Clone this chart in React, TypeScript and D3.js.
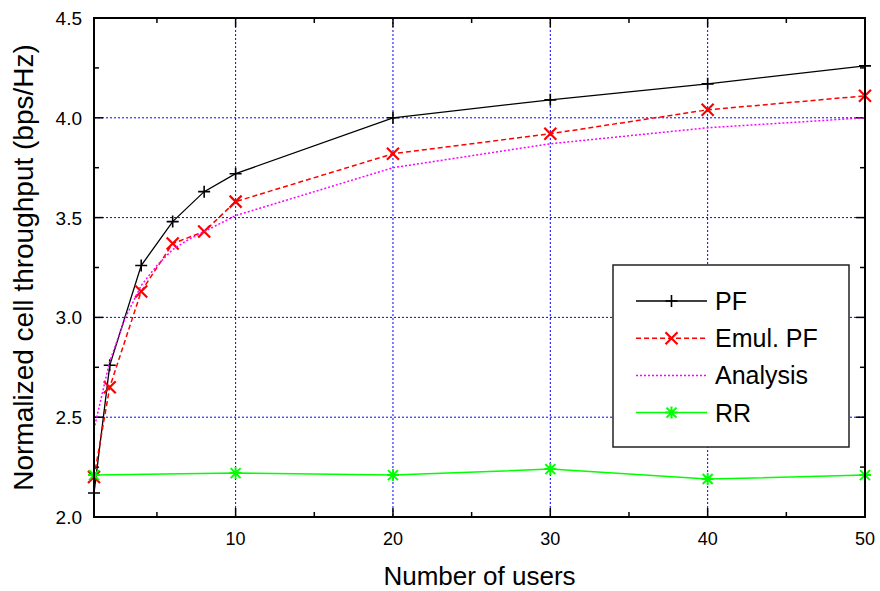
import React, { useEffect, useRef } from 'react';
import * as d3 from 'd3';

// number of users on the x axis
const pfUsers = [1, 2, 4, 6, 8, 10, 20, 30, 40, 50];
const pfValues = [2.12, 2.76, 3.26, 3.48, 3.63, 3.72, 4.0, 4.09, 4.17, 4.26];

const emulUsers = [1, 2, 4, 6, 8, 10, 20, 30, 40, 50];
const emulValues = [2.2, 2.65, 3.13, 3.37, 3.43, 3.58, 3.82, 3.92, 4.04, 4.11];

const analysisUsers = [1, 2, 3, 4, 5, 6, 7, 8, 9, 10, 20, 30, 40, 50];
const analysisValues = [2.44, 2.78, 3.0, 3.16, 3.26, 3.34, 3.39, 3.43, 3.47, 3.51, 3.75, 3.87, 3.95, 4.0];

const rrUsers = [1, 10, 20, 30, 40, 50];
const rrValues = [2.21, 2.22, 2.21, 2.24, 2.19, 2.21];

const xTicks = [10, 20, 30, 40, 50];
const xMinorTicks = [5, 15, 25, 35, 45];
const yTicks = [2.0, 2.5, 3.0, 3.5, 4.0, 4.5];
const yMinorTicks = [2.25, 2.75, 3.25, 3.75, 4.25];

const legendLabels = ['PF', 'Emul. PF', 'Analysis', 'RR'];

const App = () => {
  const svgRef = useRef(null);

  useEffect(() => {
    document.body.style.margin = '0';
    const width = 880;
    const height = 591;
    const left = 94, right = 865, top = 18, bottom = 517;
    const font = 'Liberation Sans, Arial, Helvetica, sans-serif';

    const svg = d3.select(svgRef.current)
      .attr('width', width)
      .attr('height', height)
      .style('display', 'block')
      .style('background', '#fff');
    svg.selectAll('*').remove();

    const x = d3.scaleLinear().domain([1, 50]).range([left, right]);
    const y = d3.scaleLinear().domain([2, 4.5]).range([bottom, top]);

    // grid
    const grid = svg.append('g')
      .attr('stroke', '#0000ff')
      .attr('stroke-width', 1)
      .attr('stroke-dasharray', '2,2');
    xTicks.filter(t => t < 50).forEach(t => {
      grid.append('line').attr('x1', x(t)).attr('x2', x(t)).attr('y1', top).attr('y2', bottom);
    });
    yTicks.filter(t => t > 2 && t < 4.5).forEach(t => {
      grid.append('line').attr('x1', left).attr('x2', right).attr('y1', y(t)).attr('y2', y(t));
    });

    // ticks on all four sides
    const ticks = svg.append('g').attr('stroke', '#000').attr('stroke-width', 1.5);
    const tickLines = (vals, len) => {
      vals.forEach(t => {
        ticks.append('line').attr('x1', x(t)).attr('x2', x(t)).attr('y1', bottom).attr('y2', bottom - len);
        ticks.append('line').attr('x1', x(t)).attr('x2', x(t)).attr('y1', top).attr('y2', top + len);
      });
    };
    tickLines(xTicks, 9);
    tickLines(xMinorTicks, 5);
    const yTickLines = (vals, len) => {
      vals.forEach(t => {
        ticks.append('line').attr('x1', left).attr('x2', left + len).attr('y1', y(t)).attr('y2', y(t));
        ticks.append('line').attr('x1', right).attr('x2', right - len).attr('y1', y(t)).attr('y2', y(t));
      });
    };
    yTickLines(yTicks, 9);
    yTickLines(yMinorTicks, 5);

    // tick labels
    svg.append('g').selectAll('text')
      .data(xTicks)
      .enter()
      .append('text')
      .attr('x', d => x(d))
      .attr('y', 545)
      .attr('text-anchor', 'middle')
      .style('font-family', font)
      .style('font-size', '18px')
      .text(d => d);

    svg.append('g').selectAll('text')
      .data(yTicks)
      .enter()
      .append('text')
      .attr('x', 82)
      .attr('y', d => y(d) + 7)
      .attr('text-anchor', 'end')
      .style('font-family', font)
      .style('font-size', '19px')
      .text(d => d.toFixed(1));

    // axis titles
    svg.append('text')
      .attr('x', (left + right) / 2)
      .attr('y', 585)
      .attr('text-anchor', 'middle')
      .style('font-family', font)
      .style('font-size', '26px')
      .text('Number of users');

    svg.append('text')
      .attr('transform', `translate(33,${(top + bottom) / 2 + 0}) rotate(-90)`)
      .attr('text-anchor', 'middle')
      .style('font-family', font)
      .style('font-size', '28px')
      .text('Normalized cell throughput (bps/Hz)');

    const plus = 'M-6,0H6M0,-6V6';
    const cross = 'M-6,-6L6,6M-6,6L6,-6';
    const star = 'M-6,0H6M0,-6V6M-5,-5L5,5M-5,5L5,-5';

    const series = [
      { users: pfUsers, values: pfValues, color: '#000000', dash: null, width: 1.3, marker: plus, mw: 1.6 },
      { users: emulUsers, values: emulValues, color: '#ff0000', dash: '5,3', width: 1.5, marker: cross, mw: 2.2 },
      { users: analysisUsers, values: analysisValues, color: '#ff00ff', dash: '2,2', width: 1.5, marker: null, mw: 0 },
      { users: rrUsers, values: rrValues, color: '#00ff00', dash: null, width: 1.5, marker: star, mw: 2 },
    ];

    const line = d3.line()
      .x(d => x(d[0]))
      .y(d => y(d[1]));

    const plot = svg.append('g');
    series.forEach(s => {
      const pts = s.users.map((u, i) => [u, s.values[i]]);
      plot.append('path')
        .attr('d', line(pts))
        .attr('fill', 'none')
        .attr('stroke', s.color)
        .attr('stroke-width', s.width)
        .attr('stroke-dasharray', s.dash);
      if (s.marker) {
        plot.selectAll(null)
          .data(pts)
          .enter()
          .append('path')
          .attr('d', s.marker)
          .attr('transform', d => `translate(${x(d[0])},${y(d[1])})`)
          .attr('fill', 'none')
          .attr('stroke', s.color)
          .attr('stroke-width', s.mw);
      }
    });

    // frame
    svg.append('rect')
      .attr('x', left)
      .attr('y', top)
      .attr('width', right - left)
      .attr('height', bottom - top)
      .attr('fill', 'none')
      .attr('stroke', '#000')
      .attr('stroke-width', 2);

    // legend
    const lg = svg.append('g');
    lg.append('rect')
      .attr('x', 613)
      .attr('y', 265)
      .attr('width', 236)
      .attr('height', 182)
      .attr('fill', '#fff')
      .attr('stroke', '#222')
      .attr('stroke-width', 1.5);
    series.forEach((s, i) => {
      const cy = 301 + i * 37.2;
      lg.append('line')
        .attr('x1', 636).attr('x2', 707)
        .attr('y1', cy).attr('y2', cy)
        .attr('stroke', s.color)
        .attr('stroke-width', s.width)
        .attr('stroke-dasharray', s.dash);
      if (s.marker) {
        lg.append('path')
          .attr('d', s.marker)
          .attr('transform', `translate(671.5,${cy})`)
          .attr('fill', 'none')
          .attr('stroke', s.color)
          .attr('stroke-width', s.mw);
      }
      lg.append('text')
        .attr('x', 715)
        .attr('y', cy + 9)
        .style('font-family', font)
        .style('font-size', '25px')
        .text(legendLabels[i]);
    });
  }, []);

  return <svg ref={svgRef}></svg>;
};

export default App;
